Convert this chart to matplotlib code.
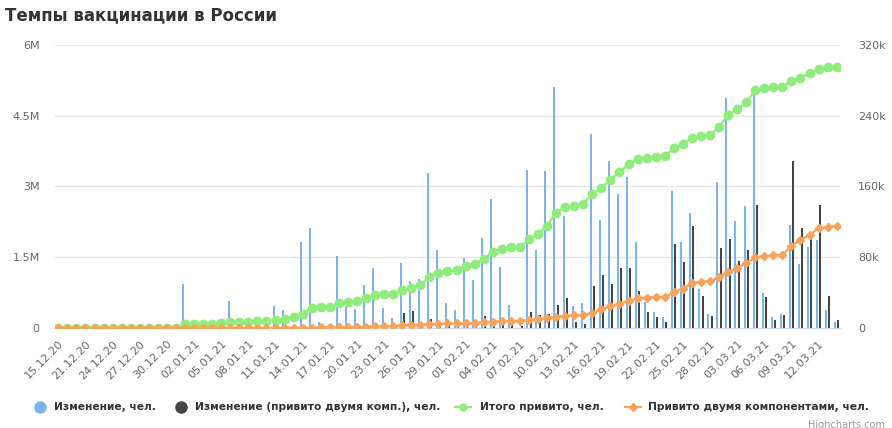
import matplotlib
matplotlib.use("Agg")
import matplotlib.pyplot as plt
import pandas as pd
from matplotlib.lines import Line2D
from matplotlib.ticker import FuncFormatter

plt.rcParams['font.family'] = ['DejaVu Sans']

# categories: 15.12.20, then every day from 19.12.20 to 14.03.21
dates = ['15.12.20'] + [d.strftime('%d.%m.%y') for d in pd.date_range('2020-12-19', '2021-03-14')]

# daily change, thousands of people (right axis)
daily_total = [0] * 14 + [
    49.5, 0, 0, 0, 0, 30, 0, 0, 0, 0,
    24, 20, 0, 97, 113, 7, 0, 81, 27.5, 21,
    48, 68, 22, 11, 73, 53, 55, 175, 88, 27.5,
    20, 78.5, 54.5, 102, 145.5, 68.5, 25.5, 0, 179, 88,
    177, 273, 127, 24, 27.5, 219, 122, 189, 151, 171,
    97, 29, 18, 12.5, 155, 97, 130, 44, 15.5, 165,
    260, 121, 138, 266, 39, 12, 15, 116, 72, 91,
    99, 20, 6]

daily_two = [0] * 38 + [
    17, 19, 2, 9.5, 6, 3, 2, 4, 3, 13,
    9.5, 5, 3, 2, 17.7, 14.3, 15.5, 25.7, 34, 6.5,
    4.2, 47, 60, 49, 68, 68, 42, 18, 12, 6.5,
    95, 74, 115, 36, 13, 90, 100, 76, 88, 139,
    35, 9, 14, 189, 113, 103, 139, 36, 9]

# cumulative, millions of people (left axis)
total = [0] * 14 + [
    0.078, 0.08, 0.08, 0.085, 0.09, 0.12, 0.125, 0.13, 0.135, 0.14,
    0.17, 0.19, 0.22, 0.30, 0.42, 0.43, 0.43, 0.52, 0.54, 0.56,
    0.62, 0.69, 0.71, 0.71, 0.80, 0.85, 0.91, 1.08, 1.17, 1.20,
    1.22, 1.31, 1.35, 1.46, 1.61, 1.68, 1.71, 1.71, 1.88, 1.99,
    2.16, 2.44, 2.56, 2.58, 2.62, 2.84, 2.96, 3.14, 3.30, 3.47,
    3.57, 3.61, 3.62, 3.64, 3.81, 3.89, 4.03, 4.07, 4.08, 4.26,
    4.52, 4.64, 4.78, 5.04, 5.09, 5.10, 5.11, 5.24, 5.31, 5.40,
    5.49, 5.53, 5.54]

two_comp = [0] * 29 + [
    0.005, 0.01, 0.01, 0.015, 0.02, 0.025, 0.03, 0.03, 0.035, 0.05,
    0.064, 0.066, 0.078, 0.08, 0.09, 0.092, 0.095, 0.10, 0.12, 0.127,
    0.138, 0.14, 0.148, 0.163, 0.184, 0.205, 0.233, 0.255, 0.265, 0.27,
    0.31, 0.39, 0.45, 0.50, 0.57, 0.62, 0.64, 0.65, 0.655, 0.75,
    0.83, 0.94, 0.98, 0.985, 1.07, 1.18, 1.26, 1.37, 1.49, 1.52,
    1.535, 1.54, 1.74, 1.86, 1.97, 2.11, 2.14, 2.16]

labels = ['Изменение, чел.', 'Изменение (привито двумя комп.), чел.',
          'Итого привито, чел.', 'Привито двумя компонентами, чел.']
colors = ['#7cb5ec', '#434348', '#90ed7d', '#f7a35c']

x = list(range(len(dates)))

fig = plt.figure(figsize=(8.92, 4.28), dpi=100)
ax = fig.add_axes([55 / 892, 1 - 327.7 / 428, 785 / 892, 282.7 / 428])
ax2 = ax.twinx()

# bars on right axis (thousands)
bw = 0.22
ax.bar([i - 0.18 for i in x], [v * 1000 for v in daily_total], width=bw, color=colors[0], zorder=2)
ax.bar([i + 0.18 for i in x], [v * 1000 for v in daily_two], width=bw, color=colors[1], zorder=2)
ax.set_ylim(0, 320000)
ax.set_yticks([0, 80000, 160000, 240000, 320000])
ax.yaxis.tick_right()
ax.yaxis.set_major_formatter(FuncFormatter(lambda v, p: '0' if v == 0 else '%dk' % (v / 1000)))
ax.grid(axis='y', color='#e6e6e6', linewidth=1, zorder=0)
ax.set_axisbelow(True)

# lines on left axis (millions)
ax2.plot(x, [v * 1e6 for v in total], color=colors[2], lw=1.6, marker='o', ms=6, zorder=3)
ax2.plot(x, [v * 1e6 for v in two_comp], color=colors[3], lw=1.6, marker='D', ms=4.5, zorder=4)
ax2.set_ylim(0, 6e6)
ax2.set_yticks([0, 1.5e6, 3e6, 4.5e6, 6e6])
ax2.yaxis.tick_left()
ax2.yaxis.set_major_formatter(FuncFormatter(lambda v, p: '0' if v == 0 else ('%gM' % (v / 1e6))))

ax.set_xlim(-0.37, 86.37)
ax.set_xticks(x[::3])
ax.set_xticklabels(dates[::3], rotation=45, ha='right', va='top', rotation_mode='anchor')

for a in (ax, ax2):
    for s in a.spines.values():
        s.set_visible(False)
    a.tick_params(axis='y', length=0, labelsize=8, labelcolor='#666666')
ax.tick_params(axis='y', pad=13)
ax2.tick_params(axis='y', pad=11)
ax.tick_params(axis='x', length=0, labelsize=8, labelcolor='#666666', pad=8)
ax.spines['bottom'].set_visible(True)
ax.spines['bottom'].set_color('#ccd6eb')

fig.text(5 / 892, 1 - 15 / 428, 'Темпы вакцинации в России', fontsize=12,
         color='#333333', ha='left', va='center', fontweight='bold')

# legend
ly = 1 - 407 / 428
items = [(40, 54), (181, 195), (463, 480), (633, 648)]
for k, (mx, tx) in enumerate(items):
    if k < 2:
        fig.add_artist(Line2D([mx / 892], [ly], marker='o', ms=8, color=colors[k], lw=0,
                              transform=fig.transFigure))
    else:
        fig.add_artist(Line2D([(mx - 8) / 892, (mx + 8) / 892], [ly, ly], color=colors[k], lw=1.6,
                              transform=fig.transFigure))
        fig.add_artist(Line2D([mx / 892], [ly], marker='o' if k == 2 else 'D',
                              ms=5 if k == 2 else 4, color=colors[k], lw=0,
                              transform=fig.transFigure))
    fig.text(tx / 892, ly, labels[k], fontsize=7.7, fontweight='bold', color='#333333',
             ha='left', va='center')

fig.text(885 / 892, -2 / 428, 'Highcharts.com', fontsize=7, color='#999999', ha='right', va='bottom')

fig.savefig('out.png', dpi=100)
